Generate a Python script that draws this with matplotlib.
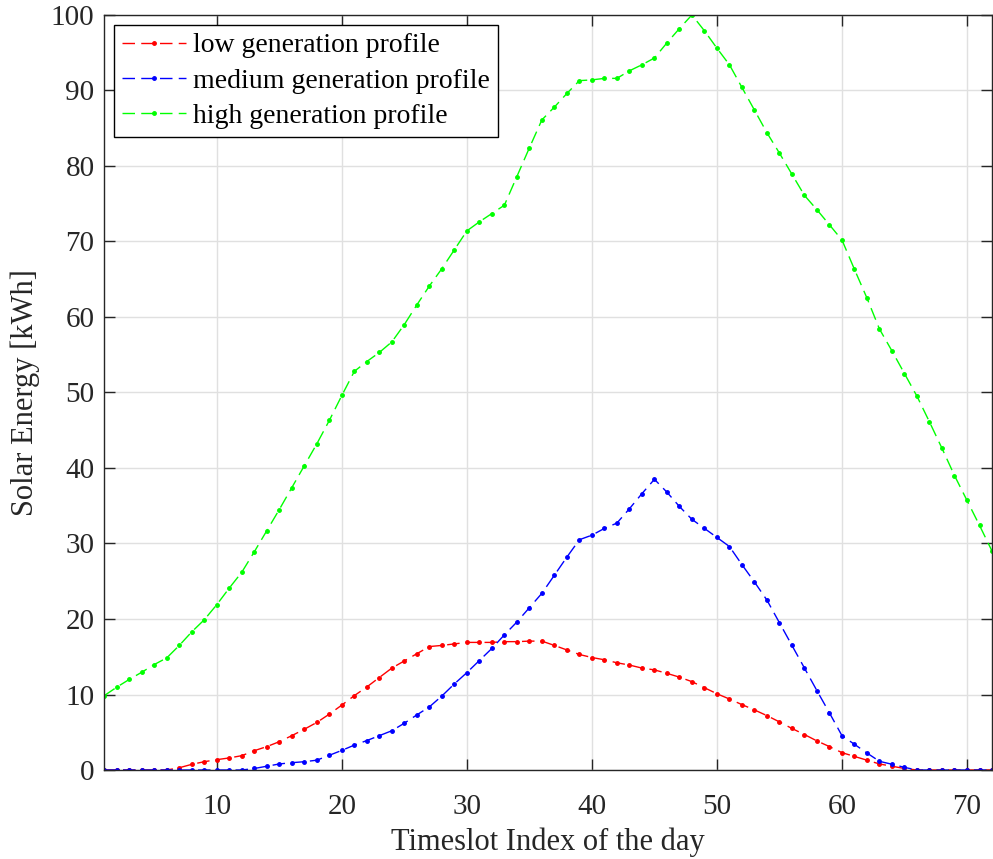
import numpy as np
import matplotlib
matplotlib.use("Agg")
import matplotlib.pyplot as plt

# Solar generation per timeslot (72 slots per day)
timeslots = np.arange(1, 73)

low_profile = [
    0, 0, 0, 0, 0, 0, 0.3, 0.75, 1.1, 1.37, 1.6, 1.9,
    2.56, 3.1, 3.75, 4.55, 5.4, 6.3, 7.4, 8.6, 9.85, 11.0, 12.25, 13.5,
    14.45, 15.4, 16.35, 16.5, 16.7, 16.9, 16.9, 16.9, 17.0, 17.0, 17.07, 17.07,
    16.5, 15.9, 15.3, 14.9, 14.6, 14.2, 13.9, 13.5, 13.26, 12.8, 12.3, 11.7,
    10.9, 10.1, 9.4, 8.66, 7.96, 7.2, 6.37, 5.5, 4.7, 3.85, 3.1, 2.3,
    1.8, 1.3, 0.8, 0.5, 0.2, 0, 0, 0, 0, 0, 0, 0,
]

medium_profile = [
    0, 0, 0, 0, 0, 0, 0, 0, 0, 0, 0, 0,
    0.2, 0.5, 0.8, 0.97, 1.1, 1.3, 1.95, 2.6, 3.3, 3.9, 4.55, 5.2,
    6.2, 7.3, 8.36, 9.8, 11.4, 12.9, 14.5, 16.1, 17.9, 19.6, 21.5, 23.4,
    25.8, 28.2, 30.5, 31.1, 32.0, 32.7, 34.6, 36.6, 38.5, 36.8, 34.9, 33.2,
    32.0, 30.8, 29.6, 27.2, 24.9, 22.5, 19.5, 16.5, 13.5, 10.5, 7.56, 4.55,
    3.4, 2.25, 1.15, 0.76, 0.35, 0, 0, 0, 0, 0, 0, 0,
]

high_profile = [
    9.85, 10.97, 12.0, 12.95, 13.97, 14.85, 16.5, 18.3, 19.9, 21.9, 24.1, 26.2,
    28.9, 31.7, 34.5, 37.4, 40.3, 43.2, 46.3, 49.6, 52.8, 54.1, 55.3, 56.7,
    59.0, 61.6, 64.1, 66.4, 68.9, 71.4, 72.6, 73.7, 74.8, 78.6, 82.4, 86.1,
    87.8, 89.6, 91.3, 91.4, 91.6, 91.6, 92.6, 93.4, 94.3, 96.3, 98.2, 100.0,
    97.9, 95.6, 93.4, 90.4, 87.4, 84.4, 81.7, 78.9, 76.1, 74.2, 72.2, 70.2,
    66.3, 62.5, 58.4, 55.5, 52.5, 49.5, 46.1, 42.6, 39.0, 35.7, 32.4, 29.0,
]

plt.rcParams["font.family"] = ["Liberation Serif", "DejaVu Serif"]

fig = plt.figure(figsize=(9.93, 8.59), dpi=100)
ax = fig.add_axes([0.105, 0.1036, 0.894, 0.879])

dash = (0, (9, 4.5))
ax.plot(timeslots, low_profile, color="#ff0000", linestyle=dash, marker=".",
        markersize=5, linewidth=1.0, label="low generation profile")
ax.plot(timeslots, medium_profile, color="#0000ff", linestyle=dash, marker=".",
        markersize=5, linewidth=1.0, label="medium generation profile")
ax.plot(timeslots, high_profile, color="#00ff00", linestyle=dash, marker=".",
        markersize=5, linewidth=1.0, label="high generation profile")

ax.set_xlim(1, 72)
ax.set_ylim(0, 100)
ax.set_xticks(np.arange(10, 80, 10))
ax.set_yticks(np.arange(0, 110, 10))

ax.grid(True, color="#e0e0e0", linewidth=1.0)
ax.set_axisbelow(True)
ax.tick_params(direction="in", top=True, right=True, length=8, width=1,
               labelsize=21, colors="#262626", pad=7)
ax.tick_params(axis="x", pad=17)
for spine in ax.spines.values():
    spine.set_color("#262626")
    spine.set_linewidth(1.0)

ax.set_xlabel("Timeslot Index of the day", fontsize=22, color="#262626",
              labelpad=6)
ax.set_ylabel("Solar Energy [kWh]", fontsize=22, color="#262626", labelpad=8)

leg = ax.legend(loc="upper left", fontsize=20, frameon=True, fancybox=False,
                handlelength=2.3, handletextpad=0.25, borderpad=0.3,
                labelspacing=0.35, borderaxespad=0.35, markerscale=1.0)
leg.get_frame().set_edgecolor("black")
leg.get_frame().set_linewidth(1.0)
leg.get_frame().set_alpha(1.0)

fig.savefig("out.png", dpi=100)
